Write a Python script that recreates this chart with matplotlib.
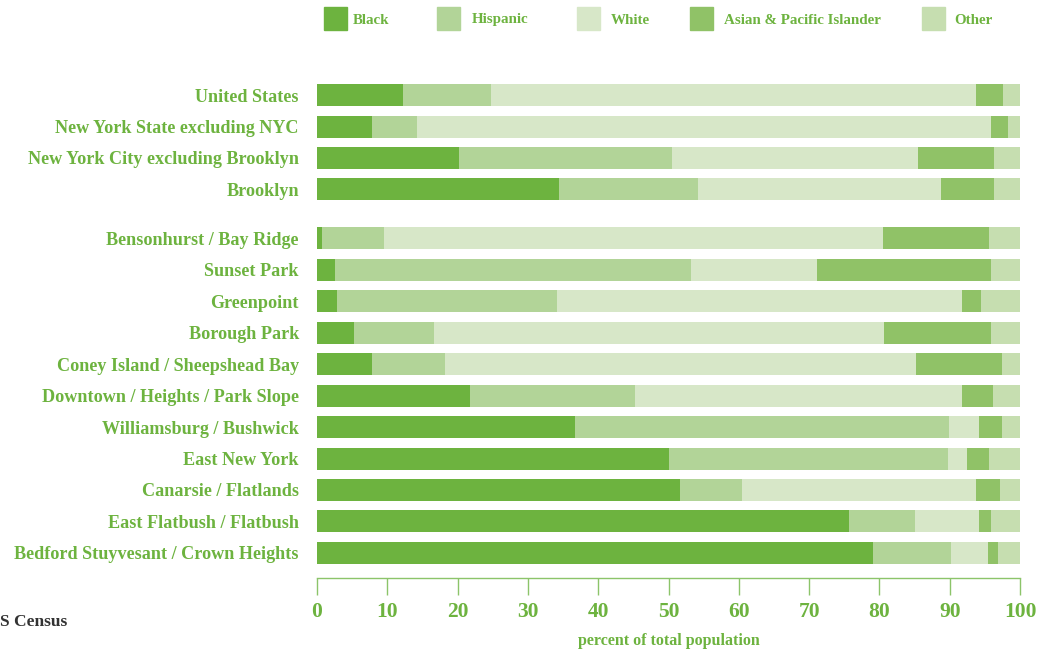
import matplotlib
matplotlib.use("Agg")
import matplotlib.pyplot as plt
from matplotlib.patches import Rectangle
import numpy as np

areas = ["United States", "New York State excluding NYC", "New York City excluding Brooklyn", "Brooklyn",
         "Bensonhurst / Bay Ridge", "Sunset Park", "Greenpoint", "Borough Park",
         "Coney Island / Sheepshead Bay", "Downtown / Heights / Park Slope", "Williamsburg / Bushwick",
         "East New York", "Canarsie / Flatlands", "East Flatbush / Flatbush",
         "Bedford Stuyvesant / Crown Heights"]
black    = [12.3, 7.8, 20.2, 34.4, 0.7, 2.5, 2.8, 5.2, 7.8, 21.7, 36.7, 50.1, 51.7, 75.7, 79.1]
hispanic = [12.5, 6.4, 30.3, 19.8, 8.8, 50.7, 31.4, 11.4, 10.4, 23.6, 53.2, 39.6, 8.7, 9.4, 11.1]
white    = [68.9, 81.7, 35.0, 34.6, 71.0, 17.9, 57.6, 64.1, 67.0, 46.5, 4.3, 2.7, 33.3, 9.0, 5.3]
asian    = [3.9, 2.4, 10.8, 7.5, 15.1, 24.8, 2.6, 15.2, 12.3, 4.3, 3.3, 3.2, 3.5, 1.8, 1.4]
other    = [2.4, 1.7, 3.7, 3.7, 4.4, 4.1, 5.6, 4.1, 2.5, 3.9, 2.5, 4.4, 2.8, 4.1, 3.1]
series_names = ["Black", "Hispanic", "White", "Asian & Pacific Islander", "Other"]
colors = ["#6db33f", "#b2d498", "#d7e7c8", "#90c267", "#c6deb0"]
xticks = [0, 10, 20, 30, 40, 50, 60, 70, 80, 90, 100]

green = "#6db33f"
font = "Liberation Serif"

W, H = 1040, 649
fig = plt.figure(figsize=(W / 100, H / 100), dpi=100)
ax_left, ax_right, ax_top, ax_bot = 317, 1020, 80, 578
ax = fig.add_axes([ax_left / W, 1 - ax_bot / H, (ax_right - ax_left) / W, (ax_bot - ax_top) / H])

ypos = np.array([0, 1, 2, 3] + [4.56 + i for i in range(11)])
data = [black, hispanic, white, asian, other]
left = np.zeros(len(areas))
for vals, c in zip(data, colors):
    ax.barh(ypos, vals, left=left, height=0.7, color=c, edgecolor="none")
    left += np.array(vals)

ax.set_ylim(ypos[-1] + 0.8, -0.48)
ax.set_xlim(0, 100)
ax.set_yticks(ypos)
ax.set_yticklabels(areas, fontfamily=font, fontweight="bold", fontsize=13.1, color=green)
ax.tick_params(axis="y", length=0, pad=13)
ax.set_xticks(xticks)
ax.set_xticklabels([str(t) for t in xticks], fontfamily=font, fontweight="bold", fontsize=15.5, color=green)
ax.tick_params(axis="x", direction="out", length=12, width=1, color="#8cc46a", pad=5)
for s in ["top", "right", "left"]:
    ax.spines[s].set_visible(False)
ax.spines["bottom"].set_color("#8cc46a")
ax.spines["bottom"].set_linewidth(1)
ax.set_xlabel("percent of total population", fontfamily=font, fontweight="bold", fontsize=11.5,
              color=green, labelpad=8.5)

# legend
leg_sq_x = [324, 437, 577, 690, 922]
leg_tx_x = [353, 472, 611, 724, 954]
for sx, tx, name, c in zip(leg_sq_x, leg_tx_x, series_names, colors):
    fig.patches.append(Rectangle((sx / W, 1 - 30 / H), 23 / W, 23 / H, transform=fig.transFigure,
                                 color=c, zorder=3))
    fig.text(tx / W, 1 - 20 / H, name, fontfamily=font, fontweight="bold", fontsize=10.8,
             color=green, va="center", ha="left")

fig.text(0, 1 - 622 / H, "S Census", fontfamily=font, fontweight="bold",
         fontsize=12.5, color="#333333", va="center", ha="left")

fig.savefig("out.png", dpi=100, facecolor="white")
